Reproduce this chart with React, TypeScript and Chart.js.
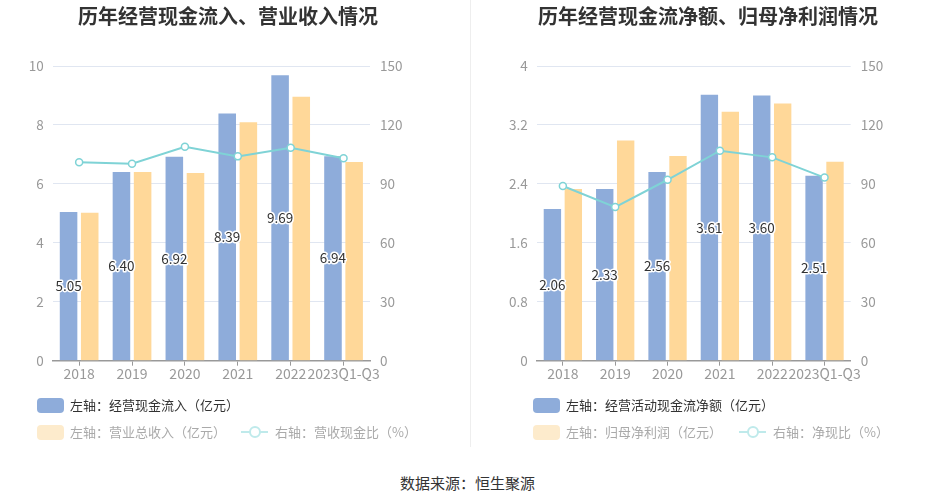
import React, { useEffect, useRef } from "react";
import { Chart, registerables } from "chart.js";

Chart.register(...registerables);

const categories = ["2018", "2019", "2020", "2021", "2022", "2023Q1-Q3"];

// Left chart
const cashInflow = [5.05, 6.4, 6.92, 8.39, 9.69, 6.94];
const totalRevenue = [5.02, 6.4, 6.37, 8.09, 8.96, 6.74];
const cashRevenueRatio = [101.0, 100.3, 108.9, 104.0, 108.4, 103.0];
const leftTicksA = [0, 2, 4, 6, 8, 10];
const rightTicksA = [0, 30, 60, 90, 120, 150];

// Right chart
const netOperatingCash = [2.06, 2.33, 2.56, 3.61, 3.6, 2.51];
const netProfit = [2.33, 2.99, 2.78, 3.38, 3.49, 2.7];
const netCashRatio = [88.9, 78.2, 92.1, 106.9, 103.5, 93.2];
const leftTicksB = [0, 0.8, 1.6, 2.4, 3.2, 4];
const rightTicksB = [0, 30, 60, 90, 120, 150];

const FONT = "'Noto Sans CJK SC', 'Noto Sans', sans-serif";
const BLUE = "#8eacda";
const ORANGE = "#ffd899";
const TEAL = "#7fd3d6";
const CANVAS_H = 390;
const PLOT_TOP = 66;
const PLOT_BOTTOM = 360.7;

const valueLabelPlugin = {
  id: "valueLabels",
  afterDatasetsDraw(chart: any) {
    const ctx = chart.ctx;
    const meta = chart.getDatasetMeta(0);
    const data = chart.data.datasets[0].data as number[];
    ctx.save();
    ctx.font = `13.5px ${FONT}`;
    ctx.textAlign = "center";
    ctx.textBaseline = "middle";
    ctx.lineJoin = "round";
    meta.data.forEach((el: any, i: number) => {
      const x = el.x;
      const y = (el.y + el.base) / 2;
      const t = data[i].toFixed(2);
      ctx.strokeStyle = "#fff";
      ctx.lineWidth = 3;
      ctx.strokeText(t, x, y);
      ctx.fillStyle = "#333";
      ctx.fillText(t, x, y);
    });
    ctx.restore();
  },
};

type ChartProps = {
  left: number;
  width: number;
  leftAxisW: number;
  rightAxisW: number;
  bars1: number[];
  bars2: number[];
  line: number[];
  yMax: number;
  yTicks: number[];
  y1Ticks: number[];
};

function DualChart(p: ChartProps) {
  const ref = useRef<HTMLCanvasElement | null>(null);
  useEffect(() => {
    if (!ref.current) return;
    const yFont = { family: FONT, size: 13.5 };
    const xFont = { family: FONT, size: 14 };
    const chart = new Chart(ref.current, {
      type: "bar",
      data: {
        labels: categories,
        datasets: [
          {
            type: "bar",
            data: p.bars1,
            backgroundColor: BLUE,
            yAxisID: "y",
            order: 2,
            categoryPercentage: 0.8,
            barPercentage: 0.83,
          },
          {
            type: "bar",
            data: p.bars2,
            backgroundColor: ORANGE,
            yAxisID: "y",
            order: 2,
            categoryPercentage: 0.8,
            barPercentage: 0.83,
          },
          {
            type: "line",
            data: p.line,
            borderColor: TEAL,
            borderWidth: 2,
            pointRadius: 3.5,
            pointBackgroundColor: "#fff",
            pointBorderColor: TEAL,
            pointBorderWidth: 1.5,
            tension: 0,
            yAxisID: "y1",
            order: 0,
          } as any,
        ],
      },
      options: {
        animation: false,
        responsive: false,
        maintainAspectRatio: false,
        layout: { padding: { top: PLOT_TOP, left: 0, right: 0, bottom: 0 } },
        plugins: { legend: { display: false }, tooltip: { enabled: false } },
        scales: {
          x: {
            grid: {
              display: true,
              drawOnChartArea: false,
              offset: false,
              color: "#999",
              tickLength: 5,
            },
            border: { color: "#999", width: 1.5 },
            ticks: {
              color: "#999",
              font: xFont,
              autoSkip: false,
              maxRotation: 0,
              minRotation: 0,
              padding: 0,
            },
            afterFit: (s: any) => {
              s.height = CANVAS_H - PLOT_BOTTOM;
            },
          },
          y: {
            position: "left",
            min: 0,
            max: p.yMax,
            grid: { color: "#e0e6f1", drawTicks: false },
            border: { display: false },
            ticks: {
              color: "#999",
              font: yFont,
              padding: 9,
              callback: (v: any) => String(v),
            },
            afterBuildTicks: (s: any) => {
              s.ticks = p.yTicks.map((v) => ({ value: v }));
            },
            afterFit: (s: any) => {
              s.width = p.leftAxisW;
            },
          },
          y1: {
            position: "right",
            min: 0,
            max: 150,
            grid: { display: false, drawTicks: false },
            border: { display: false },
            ticks: {
              color: "#999",
              font: yFont,
              padding: 10,
              callback: (v: any) => String(v),
            },
            afterBuildTicks: (s: any) => {
              s.ticks = p.y1Ticks.map((v) => ({ value: v }));
            },
            afterFit: (s: any) => {
              s.width = p.rightAxisW;
            },
          },
        },
      } as any,
      plugins: [valueLabelPlugin],
    });
    return () => chart.destroy();
  }, []);
  return (
    <canvas
      ref={ref}
      width={p.width}
      height={CANVAS_H}
      style={{ position: "absolute", left: p.left, top: 0, width: p.width, height: CANVAS_H }}
    />
  );
}

function LegendBox({ x, y, color, text, textColor }: any) {
  return (
    <>
      <div
        style={{
          position: "absolute",
          left: x,
          top: y - 7.5,
          width: 27,
          height: 15,
          borderRadius: 4,
          background: color,
        }}
      />
      <div
        style={{
          position: "absolute",
          left: x + 33,
          top: y - 10,
          height: 20,
          lineHeight: "20px",
          fontSize: 13,
          color: textColor,
          whiteSpace: "nowrap",
        }}
      >
        {text}
      </div>
    </>
  );
}

function LegendLine({ x, y, text }: any) {
  return (
    <>
      <div style={{ position: "absolute", left: x, top: y - 1, width: 27, height: 2, background: "#bfeaeb" }} />
      <div
        style={{
          position: "absolute",
          left: x + 13.5 - 6,
          top: y - 6,
          width: 8,
          height: 8,
          borderRadius: "50%",
          border: "2px solid #bfeaeb",
          background: "#fff",
        }}
      />
      <div
        style={{
          position: "absolute",
          left: x + 34,
          top: y - 10,
          height: 20,
          lineHeight: "20px",
          fontSize: 13,
          color: "#aaa",
          whiteSpace: "nowrap",
        }}
      >
        {text}
      </div>
    </>
  );
}

function Title({ cx, text }: any) {
  return (
    <div
      style={{
        position: "absolute",
        left: cx - 250,
        width: 500,
        top: 3,
        height: 26,
        lineHeight: "26px",
        textAlign: "center",
        fontSize: 20,
        fontWeight: "bold",
        color: "#333",
      }}
    >
      {text}
    </div>
  );
}

export default function App() {
  return (
    <div
      style={{
        position: "absolute",
        left: 0,
        top: 0,
        width: 935,
        height: 504,
        background: "#fff",
        fontFamily: FONT,
        overflow: "hidden",
      }}
    >
      <DualChart
        left={0}
        width={470}
        leftAxisW={52.7}
        rightAxisW={100}
        bars1={cashInflow}
        bars2={totalRevenue}
        line={cashRevenueRatio}
        yMax={10}
        yTicks={leftTicksA}
        y1Ticks={rightTicksA}
      />
      <DualChart
        left={470}
        width={465}
        leftAxisW={66.7}
        rightAxisW={84.3}
        bars1={netOperatingCash}
        bars2={netProfit}
        line={netCashRatio}
        yMax={4}
        yTicks={leftTicksB}
        y1Ticks={rightTicksB}
      />
      <Title cx={228} text="历年经营现金流入、营业收入情况" />
      <Title cx={708} text="历年经营现金流净额、归母净利润情况" />
      <div style={{ position: "absolute", left: 470, top: 0, width: 1, height: 447, background: "#eeeeee" }} />

      <LegendBox x={37} y={405} color={BLUE} text="左轴：经营现金流入（亿元）" textColor="#333" />
      <LegendBox x={37} y={432} color="#fdebcc" text="左轴：营业总收入（亿元）" textColor="#aaa" />
      <LegendLine x={241} y={432} text="右轴：营收现金比（%）" />

      <LegendBox x={533} y={405} color={BLUE} text="左轴：经营活动现金流净额（亿元）" textColor="#333" />
      <LegendBox x={533} y={432} color="#fdebcc" text="左轴：归母净利润（亿元）" textColor="#aaa" />
      <LegendLine x={739} y={432} text="右轴：净现比（%）" />

      <div
        style={{
          position: "absolute",
          left: 0,
          width: 935,
          top: 472,
          height: 22,
          lineHeight: "22px",
          textAlign: "center",
          fontSize: 15,
          color: "#333",
        }}
      >
        数据来源：恒生聚源
      </div>
    </div>
  );
}
